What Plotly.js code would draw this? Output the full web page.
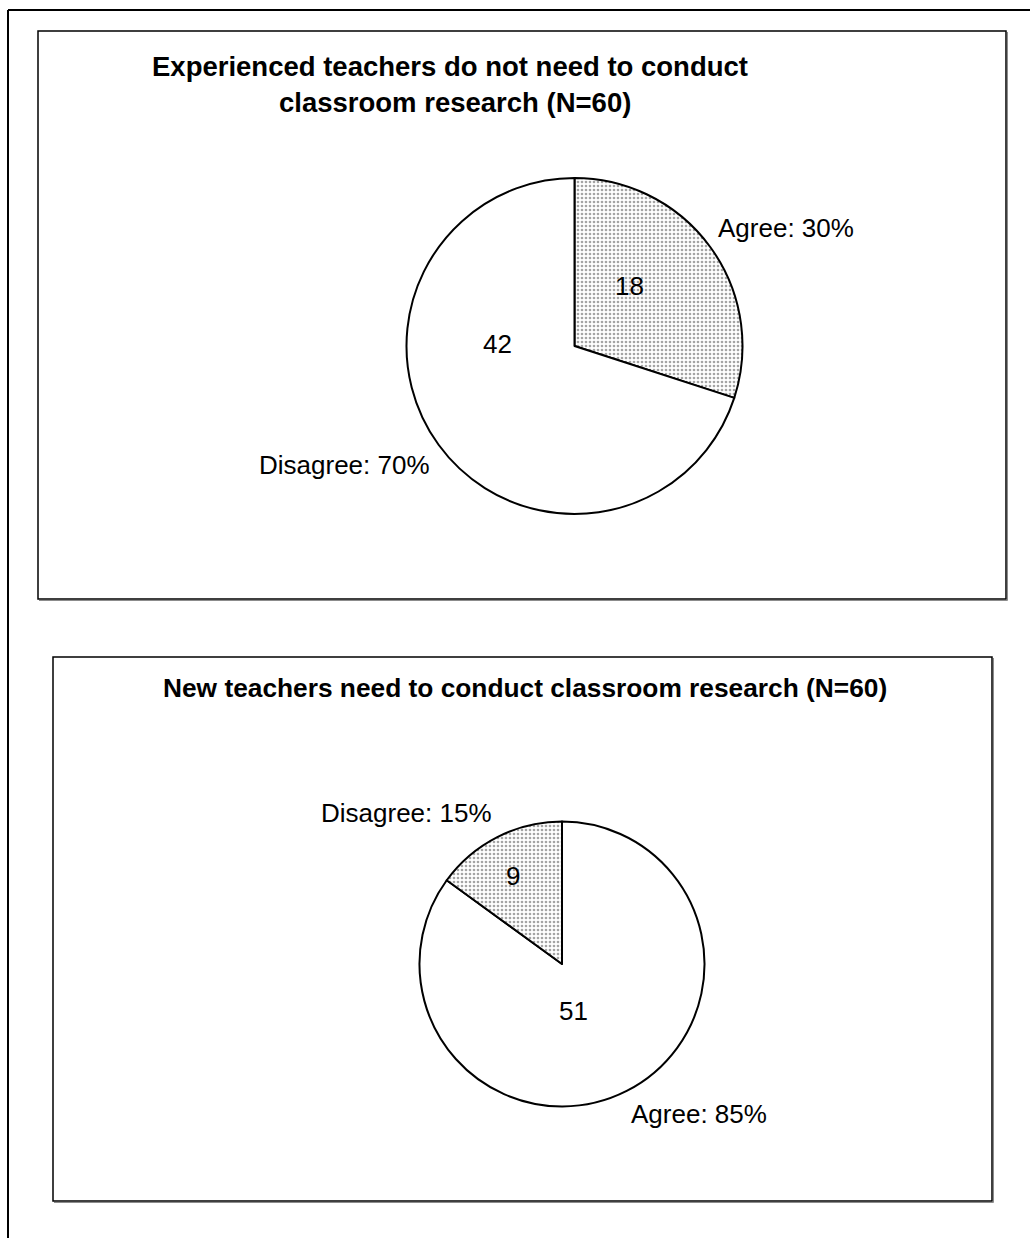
<!DOCTYPE html>
<html>
<head>
<meta charset="utf-8">
<script src="https://cdn.plot.ly/plotly-3.0.1.min.js"></script>
<style>
  html, body { margin: 0; padding: 0; background: #ffffff; }
  #chart { width: 1030px; height: 1238px; }
</style>
</head>
<body>
<div id="chart"></div>
<script>
// Survey responses, N = 60 per statement
const categories = ['Agree', 'Disagree'];
const experiencedCounts = [18, 42];   // "Experienced teachers do not need to conduct classroom research"
const newTeacherCounts = [51, 9];     // "New teachers need to conduct classroom research"
const titleExperienced = ['Experienced teachers do not need to conduct', 'classroom research (N=60)'];
const titleNew = 'New teachers need to conduct classroom research (N=60)';

const W = 1030, H = 1238;
const FONT = 'Arial, "Liberation Sans", Helvetica, sans-serif';
const px = x => x / W;
const py = y => 1 - y / H;

function pieTrace(values, center, radius, shadedIndex) {
  const shaded = values.map((_, i) => i === shadedIndex);
  return {
    type: 'pie',
    labels: categories,
    values: values,
    sort: false,
    direction: 'clockwise',
    rotation: 0,
    textinfo: 'none',
    hoverinfo: 'label+value+percent',
    showlegend: false,
    marker: {
      colors: shaded.map(s => s ? '#e9e9e9' : '#ffffff'),
      line: { color: '#000000', width: 2 },
      pattern: {
        shape: shaded.map(s => s ? '.' : ''),
        fgcolor: '#a4a4a4',
        size: 4,
        solidity: 0.35
      }
    },
    domain: {
      x: [px(center[0] - radius), px(center[0] + radius)],
      y: [py(center[1] + radius), py(center[1] - radius)]
    }
  };
}

function pct(values, i) {
  const total = values.reduce((a, b) => a + b, 0);
  return Math.round(100 * values[i] / total) + '%';
}

function note(text, x, y, opts) {
  return Object.assign({
    text: text, x: px(x), y: py(y), xref: 'paper', yref: 'paper',
    xanchor: 'center', yanchor: 'middle', showarrow: false,
    font: { family: FONT, size: 26, color: '#000000' }
  }, opts || {});
}

const topCenter = [574.5, 346], topR = 168;
const botCenter = [562, 964], botR = 142.5;

const data = [
  pieTrace(experiencedCounts, topCenter, topR, 0),
  pieTrace(newTeacherCounts, botCenter, botR, 1)
];

const titleFontTop = { family: FONT, size: 27.5, color: '#000000' };
const titleFontBottom = { family: FONT, size: 26.3, color: '#000000' };
const annotations = [
  note('<b>' + titleExperienced[0] + '</b>', 450, 66, { font: titleFontTop }),
  note('<b>' + titleExperienced[1] + '</b>', 455, 103, { font: titleFontTop }),
  note('<b>' + titleNew + '</b>', 525, 688, { font: titleFontBottom }),

  // top chart labels
  note(String(experiencedCounts[0]), 629, 286),
  note(String(experiencedCounts[1]), 497, 344),
  note(categories[0] + ': ' + pct(experiencedCounts, 0), 786, 228),
  note(categories[1] + ': ' + pct(experiencedCounts, 1), 344, 465),

  // bottom chart labels
  note(String(newTeacherCounts[1]), 513, 876),
  note(String(newTeacherCounts[0]), 573, 1011),
  note(categories[1] + ': ' + pct(newTeacherCounts, 1), 406, 813),
  note(categories[0] + ': ' + pct(newTeacherCounts, 0), 699, 1114)
];

function frame(x0, y0, x1, y1, w) {
  return [
    // soft grey shadow on the right and bottom edges
    { type: 'line', xref: 'paper', yref: 'paper', x0: px(x1 + 1.5), x1: px(x1 + 1.5), y0: py(y0 + 1), y1: py(y1 + 1.5), line: { color: '#8c8c8c', width: 1 } },
    { type: 'line', xref: 'paper', yref: 'paper', x0: px(x0 + 1), x1: px(x1 + 1.5), y0: py(y1 + 1.5), y1: py(y1 + 1.5), line: { color: '#8c8c8c', width: 1 } },
    { type: 'rect', xref: 'paper', yref: 'paper', x0: px(x0), x1: px(x1), y0: py(y1), y1: py(y0), line: { color: '#000000', width: w }, fillcolor: 'rgba(0,0,0,0)', layer: 'below' }
  ];
}

const shapes = [
  // outer page border (top and left)
  { type: 'line', xref: 'paper', yref: 'paper', x0: px(8), x1: px(W), y0: py(10), y1: py(10), line: { color: '#000000', width: 2 } },
  { type: 'line', xref: 'paper', yref: 'paper', x0: px(8), x1: px(8), y0: py(10), y1: py(H), line: { color: '#000000', width: 2 } }
].concat(frame(38, 31, 1006, 599, 1.5), frame(53, 657, 992, 1201, 1.5));

const layout = {
  width: W, height: H,
  margin: { l: 0, r: 0, t: 0, b: 0, pad: 0 },
  paper_bgcolor: '#ffffff',
  plot_bgcolor: '#ffffff',
  showlegend: false,
  annotations: annotations,
  shapes: shapes,
  font: { family: FONT }
};

Plotly.newPlot('chart', data, layout, { displayModeBar: false, staticPlot: true });
</script>
</body>
</html>
